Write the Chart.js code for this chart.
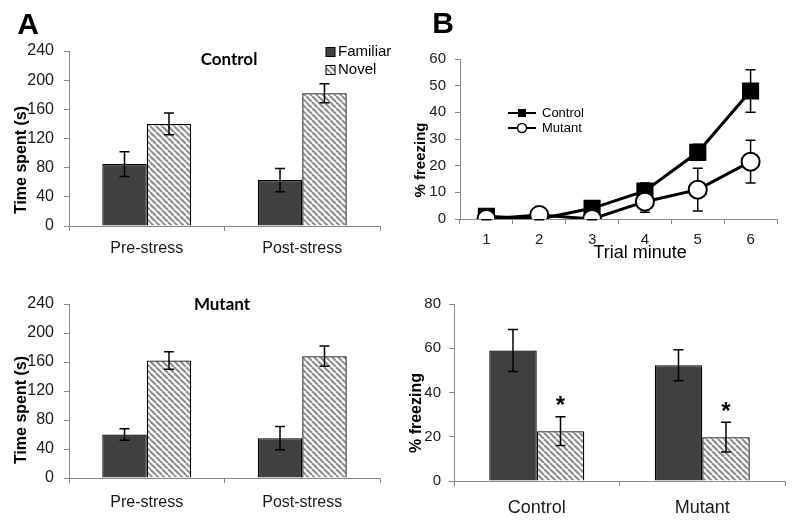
<!doctype html>
<html lang="en">
<head>
<meta charset="utf-8">
<title>Novel object and freezing</title>
<style>
  * { margin: 0; padding: 0; }
  body { width: 800px; height: 530px; background: #fff; position: relative; overflow: hidden; }
  .box { position: absolute; width: 400px; height: 265px; }
</style>
</head>
<body>
<div class="box" style="left:0;top:0"><canvas id="ctrlTime"></canvas></div>
<div class="box" style="left:0;top:265px"><canvas id="mutTime"></canvas></div>
<div class="box" style="left:400px;top:0"><canvas id="trialFreeze"></canvas></div>
<div class="box" style="left:400px;top:265px"><canvas id="groupFreeze"></canvas></div>

<script src="https://cdn.jsdelivr.net/npm/chart.js"></script>
<script>
// ---- data ----
const conditions = ['Pre-stress', 'Post-stress'];
const timeTicks = [0, 40, 80, 120, 160, 200, 240];

const ctrlFamiliar = [85, 63];
const ctrlFamiliarErr = [17, 16];
const ctrlNovel = [140, 182];
const ctrlNovelErr = [15, 13];

const mutFamiliar = [60, 55];
const mutFamiliarErr = [8, 16];
const mutNovel = [162, 168];
const mutNovelErr = [12, 14];

const trialMinutes = ['1', '2', '3', '4', '5', '6'];
const freezeTicks = [0, 10, 20, 30, 40, 50, 60];
const controlFreezing = [1, 0, 4, 10.5, 25, 48];
const controlFreezingErr = [0.5, 0.3, 1, 3, 3, 8];
const mutantFreezing = [0, 1.5, 0, 6.5, 11, 21.5];
const mutantFreezingErr = [0.3, 0.5, 0.3, 4, 8, 8];

const groups = ['Control', 'Mutant'];
const groupTicks = [0, 20, 40, 60, 80];
const groupDark = [59, 52.3];
const groupDarkErr = [9.5, 7];
const groupHatch = [22.5, 19.8];
const groupHatchErr = [6.5, 6.7];
const groupSig = [true, true];

// ---- look ----
Chart.defaults.font.family = '"Liberation Sans", Arial, sans-serif';
Chart.defaults.color = '#1a1a1a';
Chart.defaults.animation = false;
Chart.defaults.plugins.legend.display = false;
Chart.defaults.plugins.tooltip.enabled = false;

const DARK = '#404040';
const AXIS = '#8a8a8a';

function makeHatch() {
    const c = document.createElement('canvas');
    c.width = 6; c.height = 6;
    const g = c.getContext('2d');
    g.fillStyle = '#fff';
    g.fillRect(0, 0, 6, 6);
    g.strokeStyle = '#8c8c8c';
    g.lineWidth = 2;
    g.beginPath();
    for (const k of [-1, 0, 1]) {
        g.moveTo(k * 6, 0);
        g.lineTo(k * 6 + 6, 6);
    }
    g.stroke();
    return g.createPattern(c, 'repeat');
}
const HATCH = makeHatch();

// error bars (+ optional significance stars)
function drawErrors(chart, opts) {
    const ctx = chart.ctx;
    const y = chart.scales.y;
    ctx.save();
    ctx.strokeStyle = '#000';
    ctx.lineWidth = opts.width || 1.5;
    chart.data.datasets.forEach((ds, i) => {
        if (!ds.errors) return;
        chart.getDatasetMeta(i).data.forEach((el, j) => {
            const v = ds.data[j], e = ds.errors[j];
            const top = y.getPixelForValue(v + e);
            const bot = y.getPixelForValue(v - e);
            const cap = opts.cap || 5;
            ctx.beginPath();
            ctx.moveTo(el.x, top); ctx.lineTo(el.x, bot);
            ctx.moveTo(el.x - cap, top); ctx.lineTo(el.x + cap, top);
            ctx.moveTo(el.x - cap, bot); ctx.lineTo(el.x + cap, bot);
            ctx.stroke();
            if (ds.stars && ds.stars[j]) {
                ctx.fillStyle = '#000';
                ctx.font = 'bold 24px "Liberation Sans", Arial';
                ctx.textAlign = 'center';
                ctx.textBaseline = 'middle';
                ctx.fillText('*', el.x, top - 10);
            }
        });
    });
    ctx.restore();
}
const errorBars = {
    id: 'errorBars',
    beforeDatasetsDraw(chart, args, opts) { if (opts.under) drawErrors(chart, opts); },
    afterDatasetsDraw(chart, args, opts) { if (!opts.under) drawErrors(chart, opts); }
};

// free text: panel letters, titles, axis titles
const labels = {
    id: 'labels',
    afterDraw(chart, args, opts) {
        const ctx = chart.ctx;
        (opts.items || []).forEach(t => {
            ctx.save();
            ctx.translate(t.x, t.y);
            if (t.rotate) ctx.rotate(t.rotate);
            ctx.font = t.font;
            ctx.fillStyle = '#000';
            ctx.textAlign = t.align || 'center';
            ctx.textBaseline = 'middle';
            ctx.fillText(t.text, 0, 0);
            ctx.restore();
        });
    }
};

// small legends
const boxLegend = {
    id: 'boxLegend',
    afterDraw(chart, args, opts) {
        if (!opts.x) return;
        const ctx = chart.ctx;
        ctx.save();
        ctx.font = '15px "Liberation Sans", Arial';
        ctx.textBaseline = 'middle';
        chart.data.datasets.forEach((ds, i) => {
            const yy = opts.y + i * opts.gap;
            ctx.fillStyle = ds.backgroundColor;
            ctx.fillRect(opts.x, yy - 4.5, 9, 9);
            ctx.strokeStyle = '#000';
            ctx.lineWidth = 1;
            ctx.strokeRect(opts.x, yy - 4.5, 9, 9);
            ctx.fillStyle = '#000';
            ctx.fillText(ds.label, opts.x + 12, yy);
        });
        ctx.restore();
    }
};
const lineLegend = {
    id: 'lineLegend',
    afterDraw(chart, args, opts) {
        if (!opts.x) return;
        const ctx = chart.ctx;
        ctx.save();
        ctx.font = '13px "Liberation Sans", Arial';
        ctx.textBaseline = 'middle';
        chart.data.datasets.forEach((ds, i) => {
            const yy = opts.y + i * opts.gap;
            const mid = opts.x + 14;
            ctx.strokeStyle = '#000';
            ctx.lineWidth = 2;
            ctx.beginPath();
            ctx.moveTo(opts.x, yy); ctx.lineTo(opts.x + 28, yy);
            ctx.stroke();
            ctx.lineWidth = 1.5;
            if (ds.pointStyle === 'rect') {
                ctx.fillStyle = '#000';
                ctx.fillRect(mid - 4, yy - 4, 8, 8);
            } else {
                ctx.fillStyle = '#fff';
                ctx.beginPath();
                ctx.arc(mid, yy, 4.5, 0, Math.PI * 2);
                ctx.fill(); ctx.stroke();
            }
            ctx.fillStyle = '#000';
            ctx.fillText(ds.label, opts.x + 34, yy);
        });
        ctx.restore();
    }
};

function yAxis(max, step, width, pad, size) {
    return {
        min: 0, max: max,
        afterFit: s => { s.width = width; },
        ticks: { stepSize: step, padding: pad, font: { size: size } },
        grid: { drawOnChartArea: false, tickLength: 5, color: AXIS },
        border: { color: AXIS }
    };
}
function xAxis(height, pad, size) {
    return {
        afterFit: s => { s.height = height; },
        offset: true,
        ticks: { padding: pad, font: { size: size }, maxRotation: 0 },
        grid: { offset: true, drawOnChartArea: false, tickLength: 5, color: AXIS },
        border: { color: AXIS }
    };
}

function timeChart(id, fam, famErr, nov, novErr, layout, extra) {
    return new Chart(document.getElementById(id), {
        type: 'bar',
        data: {
            labels: conditions,
            datasets: [
                { label: 'Familiar', data: fam, errors: famErr, backgroundColor: DARK,
                  borderColor: '#000', borderWidth: 1.3 },
                { label: 'Novel', data: nov, errors: novErr, backgroundColor: HATCH,
                  borderColor: '#000', borderWidth: 1.3 }
            ]
        },
        options: {
            responsive: true, maintainAspectRatio: false,
            categoryPercentage: 0.572, barPercentage: 1,
            layout: { padding: { left: 0, right: 20, top: layout.top, bottom: 0 } },
            scales: {
                x: xAxis(layout.xh, layout.xpad, 16),
                y: yAxis(timeTicks[timeTicks.length - 1], timeTicks[1] - timeTicks[0], 69, 10, 16)
            },
            plugins: {
                errorBars: { cap: 5 },
                labels: { items: extra.texts },
                boxLegend: extra.legend || {}
            }
        },
        plugins: [errorBars, labels, boxLegend]
    });
}

timeChart('ctrlTime', ctrlFamiliar, ctrlFamiliarErr, ctrlNovel, ctrlNovelErr,
    { top: 51, xh: 39, xpad: 8 },
    {
        texts: [
            { text: 'A', x: 28, y: 26, font: 'bold 30px "Liberation Sans", Arial' },
            { text: 'Control', x: 229, y: 60, font: 'bold 17px Lato, "Liberation Sans"' },
            { text: 'Time spent (s)', x: 22, y: 160, rotate: -Math.PI / 2,
              font: 'bold 16px "Liberation Sans", Arial' }
        ],
        legend: { x: 326, y: 52, gap: 18 }
    });

timeChart('mutTime', mutFamiliar, mutFamiliarErr, mutNovel, mutNovelErr,
    { top: 39, xh: 52, xpad: 10 },
    {
        texts: [
            { text: 'Mutant', x: 222, y: 40, font: 'bold 17px Lato, "Liberation Sans"' },
            { text: 'Time spent (s)', x: 22, y: 145, rotate: -Math.PI / 2,
              font: 'bold 16px "Liberation Sans", Arial' }
        ]
    });

new Chart(document.getElementById('trialFreeze'), {
    type: 'line',
    data: {
        labels: trialMinutes,
        datasets: [
            { label: 'Control', data: controlFreezing, errors: controlFreezingErr, order: 2,
              borderColor: '#000', borderWidth: 3, tension: 0,
              pointStyle: 'rect', pointRadius: 10, pointBackgroundColor: '#000', pointBorderColor: '#000' },
            { label: 'Mutant', data: mutantFreezing, errors: mutantFreezingErr, order: 1,
              borderColor: '#000', borderWidth: 3, tension: 0,
              pointStyle: 'circle', pointRadius: 9, pointBackgroundColor: '#fff',
              pointBorderColor: '#000', pointBorderWidth: 2 }
        ]
    },
    options: {
        responsive: true, maintainAspectRatio: false,
        layout: { padding: { left: 0, right: 23, top: 59, bottom: 0 } },
        scales: {
            x: xAxis(46, 7, 15),
            y: yAxis(freezeTicks[freezeTicks.length - 1], freezeTicks[1] - freezeTicks[0], 60, 9, 15)
        },
        plugins: {
            errorBars: { under: true, cap: 5 },
            labels: { items: [
                { text: 'B', x: 43, y: 25, font: 'bold 30px "Liberation Sans", Arial' },
                { text: 'Trial minute', x: 240, y: 253, font: '18px "Liberation Sans", Arial' },
                { text: '% freezing', x: 21, y: 160, rotate: -Math.PI / 2,
                  font: 'bold 15px "Liberation Sans", Arial' }
            ] },
            lineLegend: { x: 108, y: 113, gap: 15 }
        }
    },
    plugins: [errorBars, labels, lineLegend]
});

new Chart(document.getElementById('groupFreeze'), {
    type: 'bar',
    data: {
        labels: groups,
        datasets: [
            { label: 'Familiar', data: groupDark, errors: groupDarkErr, backgroundColor: DARK,
              borderColor: '#000', borderWidth: 1.3 },
            { label: 'Novel', data: groupHatch, errors: groupHatchErr, stars: groupSig,
              backgroundColor: HATCH, borderColor: '#000', borderWidth: 1.3 }
        ]
    },
    options: {
        responsive: true, maintainAspectRatio: false,
        categoryPercentage: 0.574, barPercentage: 1,
        layout: { padding: { left: 0, right: 15, top: 39, bottom: 0 } },
        scales: {
            x: xAxis(49, 11, 18),
            y: yAxis(groupTicks[groupTicks.length - 1], groupTicks[1] - groupTicks[0], 54, 8, 15)
        },
        plugins: {
            errorBars: { cap: 5 },
            labels: { items: [
                { text: '% freezing', x: 17, y: 148, rotate: -Math.PI / 2,
                  font: 'bold 16px "Liberation Sans", Arial' }
            ] }
        }
    },
    plugins: [errorBars, labels]
});
</script>
</body>
</html>
